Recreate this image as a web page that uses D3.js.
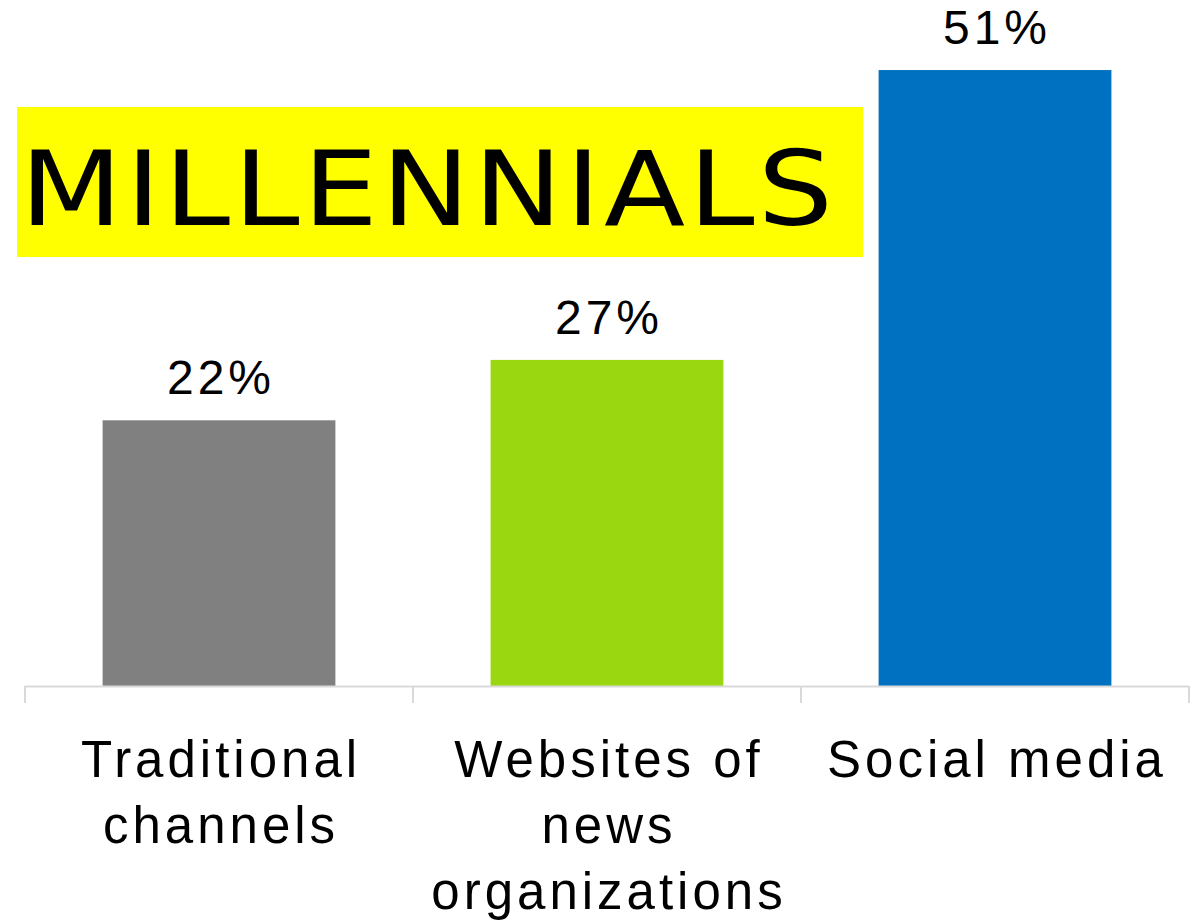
<!DOCTYPE html>
<html lang="en">
<head>
<meta charset="utf-8">
<title>Millennials</title>
<script src="https://cdn.jsdelivr.net/npm/d3@7"></script>
<style>
  body { margin: 0; background: #fff; }
  text { font-family: "Liberation Sans", Arial, sans-serif; }
</style>
</head>
<body>
<script>
// data
var categories = ["Traditional channels", "Websites of news organizations", "Social media"];
var labelLines = [["Traditional", "channels"], ["Websites of", "news", "organizations"], ["Social media"]];
var values = [22, 27, 51];
var colors = ["#808080", "#9ad710", "#0070c0"];
var title = "MILLENNIALS";

var w = 1201, h = 920;
var svg = d3.select("body").append("svg")
    .attr("width", w)
    .attr("height", h);

var x = d3.scaleBand()
    .domain(categories)
    .range([25, 1189])
    .paddingInner(0.4)
    .paddingOuter(0.2);

var y = d3.scaleLinear()
    .domain([0, 56.8])
    .range([686, 0]);

// bars
svg.selectAll("rect.bar")
    .data(categories)
    .enter()
    .append("rect")
    .attr("class", "bar")
    .attr("x", function(d) { return x(d); })
    .attr("y", function(d, i) { return y(values[i]); })
    .attr("width", x.bandwidth())
    .attr("height", function(d, i) { return y(0) - y(values[i]); })
    .attr("fill", function(d, i) { return colors[i]; });

// value labels
svg.selectAll("text.val")
    .data(categories)
    .enter()
    .append("text")
    .attr("class", "val")
    .attr("x", function(d) { return x(d) + x.bandwidth() / 2 + 2; })
    .attr("y", function(d, i) { return y(values[i]) - 26; })
    .attr("text-anchor", "middle")
    .attr("font-size", 48)
    .attr("letter-spacing", 4)
    .attr("fill", "#000")
    .text(function(d, i) { return values[i] + "%"; });

// axis line + ticks between categories
var step = x.step();
var edges = [25, 25 + step, 25 + 2 * step, 1189];
svg.append("line")
    .attr("x1", 25).attr("x2", 1189)
    .attr("y1", y(0) + 0.5).attr("y2", y(0) + 0.5)
    .attr("stroke", "#d9d9d9")
    .attr("stroke-width", 2);
svg.selectAll("line.tick")
    .data(edges)
    .enter()
    .append("line")
    .attr("class", "tick")
    .attr("x1", function(d) { return d; })
    .attr("x2", function(d) { return d; })
    .attr("y1", y(0))
    .attr("y2", y(0) + 17)
    .attr("stroke", "#d9d9d9")
    .attr("stroke-width", 2);

// category labels
var cat = svg.selectAll("text.cat")
    .data(categories)
    .enter()
    .append("text")
    .attr("class", "cat")
    .attr("text-anchor", "middle")
    .attr("font-size", 51)
    .attr("letter-spacing", 4)
    .attr("fill", "#000");
cat.each(function(d, i) {
    var t = d3.select(this);
    labelLines[i].forEach(function(line, j) {
        t.append("tspan")
            .attr("x", x(d) + x.bandwidth() / 2 + 2)
            .attr("y", 777 + j * 66)
            .text(line);
    });
});

// title box
svg.append("rect")
    .attr("x", 17).attr("y", 107)
    .attr("width", 846).attr("height", 150)
    .attr("fill", "#ffff00");
svg.append("text")
    .attr("transform", "translate(20,225) scale(1.14,1)")
    .attr("font-size", 104)
    .attr("letter-spacing", 3)
    .style("font-family", "'DejaVu Sans', sans-serif")
    .attr("fill", "#000")
    .text(title);
</script>
</body>
</html>
